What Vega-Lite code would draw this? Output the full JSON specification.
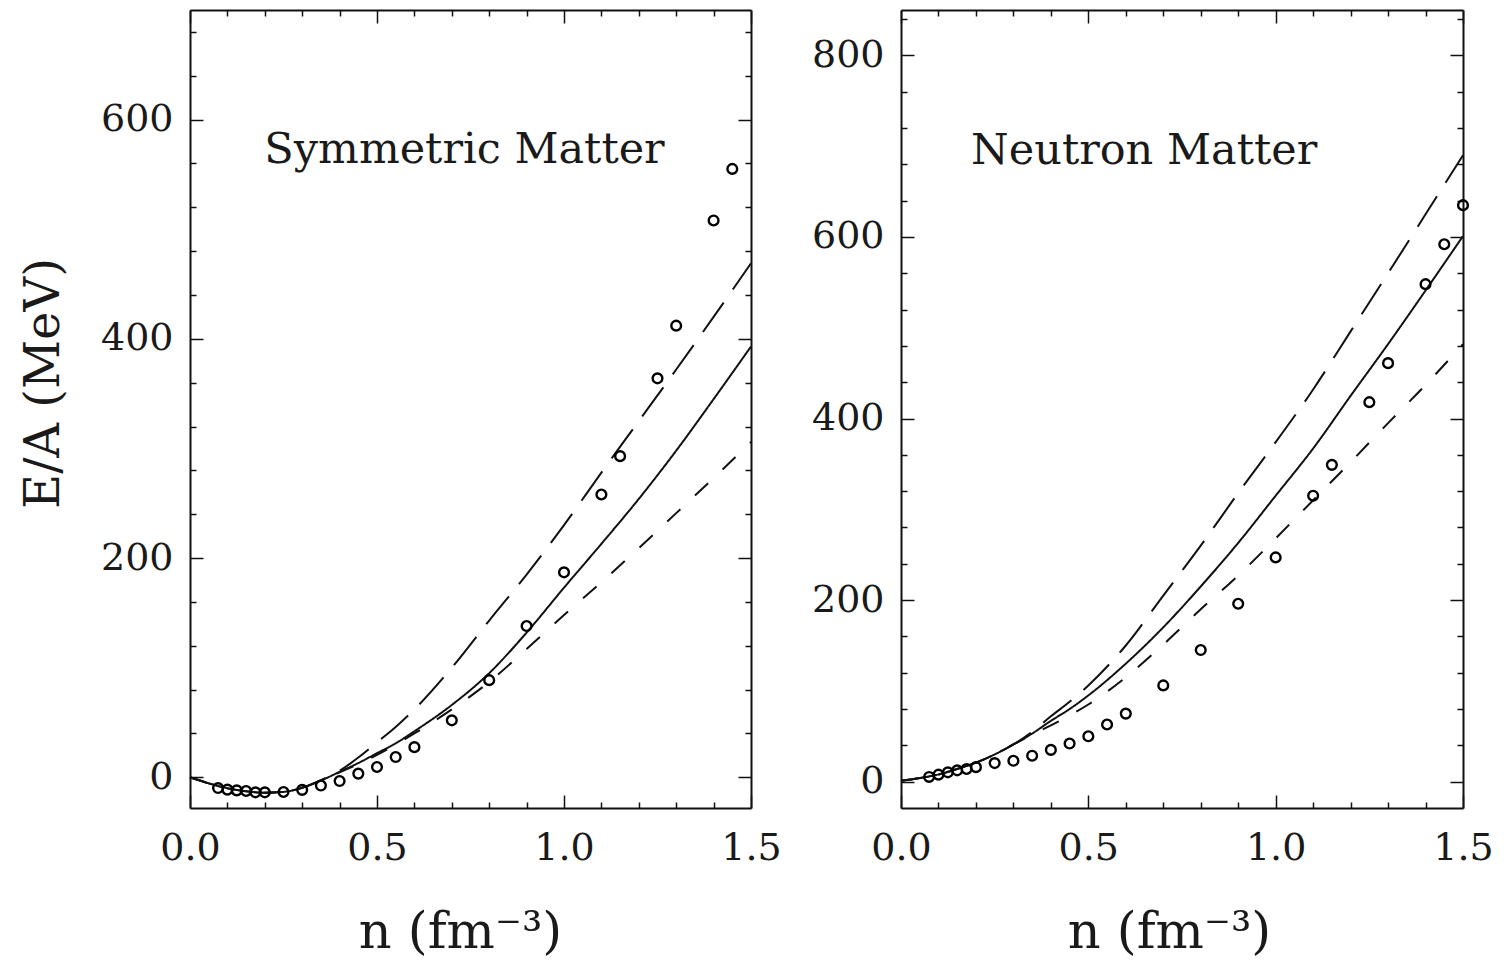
{
  "$schema": "https://vega.github.io/schema/vega-lite/v6.json",
  "background": "white",
  "padding": {"left": 20, "top": 0, "right": 5, "bottom": 5},
  "spacing": 150,
  "bounds": "flush",
  "config": {
    "view": {"stroke": null},
    "axis": {
      "grid": false,
      "domainColor": "#111111",
      "domainWidth": 2,
      "tickColor": "#111111",
      "tickWidth": 1.5,
      "labelFont": "DejaVu Serif",
      "labelFontSize": 38,
      "labelColor": "#1a1a1a",
      "titleFont": "DejaVu Serif",
      "titleFontSize": 48,
      "titleFontWeight": "normal",
      "titleColor": "#1a1a1a"
    }
  },
  "datasets": {
    "symPoints": [
      {"n": 0.075, "E": -9.8}, {"n": 0.1, "E": -11.2}, {"n": 0.125, "E": -11.9}, {"n": 0.15, "E": -12.5},
      {"n": 0.175, "E": -13.7}, {"n": 0.2, "E": -13.7}, {"n": 0.25, "E": -13.4}, {"n": 0.3, "E": -11.5},
      {"n": 0.35, "E": -7.5}, {"n": 0.4, "E": -3.4}, {"n": 0.45, "E": 3.4}, {"n": 0.5, "E": 9.4},
      {"n": 0.55, "E": 18.5}, {"n": 0.6, "E": 27.5}, {"n": 0.7, "E": 52}, {"n": 0.8, "E": 88.6},
      {"n": 0.9, "E": 138}, {"n": 1.0, "E": 187}, {"n": 1.1, "E": 258}, {"n": 1.15, "E": 293},
      {"n": 1.25, "E": 364}, {"n": 1.3, "E": 412}, {"n": 1.4, "E": 508}, {"n": 1.45, "E": 555}
    ],
    "neuPoints": [
      {"n": 0.075, "E": 5.2}, {"n": 0.1, "E": 7.7}, {"n": 0.125, "E": 10.3}, {"n": 0.15, "E": 12.5},
      {"n": 0.175, "E": 14}, {"n": 0.2, "E": 16}, {"n": 0.25, "E": 20.5}, {"n": 0.3, "E": 23},
      {"n": 0.35, "E": 28.6}, {"n": 0.4, "E": 35}, {"n": 0.45, "E": 42}, {"n": 0.5, "E": 50},
      {"n": 0.55, "E": 63}, {"n": 0.6, "E": 75}, {"n": 0.7, "E": 106}, {"n": 0.8, "E": 145},
      {"n": 0.9, "E": 196}, {"n": 1.0, "E": 247}, {"n": 1.1, "E": 315}, {"n": 1.15, "E": 349},
      {"n": 1.25, "E": 418}, {"n": 1.3, "E": 461}, {"n": 1.4, "E": 548}, {"n": 1.45, "E": 592}, {"n": 1.5, "E": 635}
    ],
    "symCurves": [
      {"model": "A", "n": 0, "E": 0}, {"model": "A", "n": 0.05, "E": -5.5}, {"model": "A", "n": 0.1, "E": -10}, {"model": "A", "n": 0.15, "E": -12.8},
      {"model": "A", "n": 0.2, "E": -14}, {"model": "A", "n": 0.25, "E": -13.3}, {"model": "A", "n": 0.3, "E": -9.5}, {"model": "A", "n": 0.35, "E": -3},
      {"model": "A", "n": 0.4, "E": 5}, {"model": "A", "n": 0.45, "E": 13}, {"model": "A", "n": 0.5, "E": 22}, {"model": "A", "n": 0.55, "E": 31},
      {"model": "A", "n": 0.6, "E": 42}, {"model": "A", "n": 0.7, "E": 66}, {"model": "A", "n": 0.8, "E": 95}, {"model": "A", "n": 0.9, "E": 132},
      {"model": "A", "n": 1.0, "E": 173}, {"model": "A", "n": 1.1, "E": 213}, {"model": "A", "n": 1.2, "E": 254}, {"model": "A", "n": 1.3, "E": 298},
      {"model": "A", "n": 1.4, "E": 345}, {"model": "A", "n": 1.5, "E": 393},
      {"model": "B", "n": 0, "E": 0}, {"model": "B", "n": 0.05, "E": -5.5}, {"model": "B", "n": 0.1, "E": -10}, {"model": "B", "n": 0.15, "E": -12.8},
      {"model": "B", "n": 0.2, "E": -14}, {"model": "B", "n": 0.25, "E": -13.3}, {"model": "B", "n": 0.3, "E": -9.5}, {"model": "B", "n": 0.35, "E": -2.5},
      {"model": "B", "n": 0.4, "E": 6}, {"model": "B", "n": 0.45, "E": 18}, {"model": "B", "n": 0.5, "E": 32}, {"model": "B", "n": 0.55, "E": 46},
      {"model": "B", "n": 0.6, "E": 62}, {"model": "B", "n": 0.7, "E": 100}, {"model": "B", "n": 0.8, "E": 143}, {"model": "B", "n": 0.9, "E": 185},
      {"model": "B", "n": 1.0, "E": 230}, {"model": "B", "n": 1.1, "E": 278}, {"model": "B", "n": 1.2, "E": 325}, {"model": "B", "n": 1.3, "E": 372},
      {"model": "B", "n": 1.4, "E": 420}, {"model": "B", "n": 1.5, "E": 469},
      {"model": "C", "n": 0, "E": 0}, {"model": "C", "n": 0.05, "E": -5.5}, {"model": "C", "n": 0.1, "E": -10}, {"model": "C", "n": 0.15, "E": -12.8},
      {"model": "C", "n": 0.2, "E": -14}, {"model": "C", "n": 0.25, "E": -13.3}, {"model": "C", "n": 0.3, "E": -9.5}, {"model": "C", "n": 0.35, "E": -3},
      {"model": "C", "n": 0.4, "E": 4.5}, {"model": "C", "n": 0.45, "E": 12}, {"model": "C", "n": 0.5, "E": 20.5}, {"model": "C", "n": 0.55, "E": 30},
      {"model": "C", "n": 0.6, "E": 40}, {"model": "C", "n": 0.7, "E": 62}, {"model": "C", "n": 0.8, "E": 87}, {"model": "C", "n": 0.9, "E": 117},
      {"model": "C", "n": 1.0, "E": 148}, {"model": "C", "n": 1.1, "E": 178}, {"model": "C", "n": 1.2, "E": 209}, {"model": "C", "n": 1.3, "E": 241},
      {"model": "C", "n": 1.4, "E": 273}, {"model": "C", "n": 1.5, "E": 306}
    ],
    "neuCurves": [
      {"model": "A", "n": 0, "E": 1}, {"model": "A", "n": 0.05, "E": 4}, {"model": "A", "n": 0.1, "E": 8}, {"model": "A", "n": 0.15, "E": 14},
      {"model": "A", "n": 0.2, "E": 21}, {"model": "A", "n": 0.25, "E": 30}, {"model": "A", "n": 0.3, "E": 41}, {"model": "A", "n": 0.35, "E": 53},
      {"model": "A", "n": 0.4, "E": 67}, {"model": "A", "n": 0.45, "E": 80}, {"model": "A", "n": 0.5, "E": 95}, {"model": "A", "n": 0.6, "E": 130},
      {"model": "A", "n": 0.7, "E": 170}, {"model": "A", "n": 0.8, "E": 215}, {"model": "A", "n": 0.9, "E": 263}, {"model": "A", "n": 1.0, "E": 315},
      {"model": "A", "n": 1.1, "E": 367}, {"model": "A", "n": 1.2, "E": 425}, {"model": "A", "n": 1.3, "E": 482}, {"model": "A", "n": 1.4, "E": 541},
      {"model": "A", "n": 1.5, "E": 601},
      {"model": "B", "n": 0, "E": 1}, {"model": "B", "n": 0.05, "E": 4}, {"model": "B", "n": 0.1, "E": 8}, {"model": "B", "n": 0.15, "E": 14},
      {"model": "B", "n": 0.2, "E": 21}, {"model": "B", "n": 0.25, "E": 30}, {"model": "B", "n": 0.3, "E": 41}, {"model": "B", "n": 0.35, "E": 55},
      {"model": "B", "n": 0.4, "E": 72}, {"model": "B", "n": 0.45, "E": 88}, {"model": "B", "n": 0.5, "E": 106}, {"model": "B", "n": 0.6, "E": 150},
      {"model": "B", "n": 0.7, "E": 205}, {"model": "B", "n": 0.8, "E": 260}, {"model": "B", "n": 0.9, "E": 318}, {"model": "B", "n": 1.0, "E": 374},
      {"model": "B", "n": 1.1, "E": 432}, {"model": "B", "n": 1.2, "E": 496}, {"model": "B", "n": 1.3, "E": 560}, {"model": "B", "n": 1.4, "E": 625},
      {"model": "B", "n": 1.5, "E": 690},
      {"model": "C", "n": 0, "E": 1}, {"model": "C", "n": 0.05, "E": 4}, {"model": "C", "n": 0.1, "E": 8}, {"model": "C", "n": 0.15, "E": 14},
      {"model": "C", "n": 0.2, "E": 21}, {"model": "C", "n": 0.25, "E": 30}, {"model": "C", "n": 0.3, "E": 41}, {"model": "C", "n": 0.35, "E": 52},
      {"model": "C", "n": 0.4, "E": 62}, {"model": "C", "n": 0.45, "E": 73}, {"model": "C", "n": 0.5, "E": 85}, {"model": "C", "n": 0.6, "E": 115},
      {"model": "C", "n": 0.7, "E": 151}, {"model": "C", "n": 0.8, "E": 190}, {"model": "C", "n": 0.9, "E": 227}, {"model": "C", "n": 1.0, "E": 268},
      {"model": "C", "n": 1.1, "E": 310}, {"model": "C", "n": 1.2, "E": 352}, {"model": "C", "n": 1.3, "E": 395}, {"model": "C", "n": 1.4, "E": 437},
      {"model": "C", "n": 1.5, "E": 482}
    ],
    "symLabel": [{"n": 0.734, "E": 572, "label": "Symmetric Matter"}],
    "neuLabel": [{"n": 0.649, "E": 695, "label": "Neutron Matter"}]
  },
  "hconcat": [
    {
      "width": 561,
      "height": 798,
      "resolve": {"axis": {"x": "independent", "y": "independent"}},
      "layer": [
        {
          "data": {"name": "symCurves"},
          "mark": {"type": "line", "interpolate": "monotone", "strokeWidth": 2, "color": "#111111"},
          "encoding": {
            "x": {"field": "n", "type": "quantitative", "scale": {"domain": [0, 1.5], "nice": false, "zero": false},
              "axis": {"orient": "bottom", "values": [0, 0.1, 0.2, 0.3, 0.4, 0.5, 0.6, 0.7, 0.8, 0.9, 1, 1.1, 1.2, 1.3, 1.4, 1.5],
                "tickSize": {"condition": {"test": "datum.value % 0.5 === 0", "value": -13}, "value": -6},
                "labelExpr": "datum.value % 0.5 === 0 ? format(datum.value, '.1f') : ''",
                "labelFlush": false, "labelOverlap": false, "labelPadding": 34,
                "title": "n (fm⁻³)", "titleFontSize": 51, "titleX": 270, "titleY": 99, "titleAnchor": "middle"}},
            "y": {"field": "E", "type": "quantitative", "scale": {"domain": [-28, 700], "nice": false, "zero": false},
              "axis": {"orient": "left", "values": [0, 40, 80, 120, 160, 200, 240, 280, 320, 360, 400, 440, 480, 520, 560, 600, 640, 680],
                "tickSize": {"condition": {"test": "datum.value % 200 === 0", "value": -13}, "value": -6},
                "labelExpr": "datum.value % 200 === 0 ? format(datum.value, 'd') : ''",
                "labelFlush": false, "labelOverlap": false, "labelPadding": 30,
                "title": "E/A (MeV)", "titleX": -122, "titleY": 373}},
            "strokeDash": {"field": "model", "type": "nominal",
              "scale": {"domain": ["A", "B", "C"], "range": [[1, 0], [36, 16], [18, 20]]}, "legend": null}
          }
        },
        {
          "data": {"name": "symPoints"},
          "mark": {"type": "point", "shape": "circle", "filled": false, "size": 95, "strokeWidth": 2.4, "color": "#000000", "opacity": 1},
          "encoding": {
            "x": {"field": "n", "type": "quantitative", "scale": {"domain": [0, 1.5], "nice": false, "zero": false}, "axis": null},
            "y": {"field": "E", "type": "quantitative", "scale": {"domain": [-28, 700], "nice": false, "zero": false}, "axis": null}
          }
        },
        {
          "data": {"name": "symLabel"},
          "mark": {"type": "text", "font": "DejaVu Serif", "fontSize": 43, "color": "#1a1a1a", "align": "center", "baseline": "middle"},
          "encoding": {
            "x": {"field": "n", "type": "quantitative", "axis": null},
            "y": {"field": "E", "type": "quantitative", "axis": null},
            "text": {"field": "label"}
          }
        },
        {
          "data": {"name": "symPoints"},
          "mark": {"type": "point", "opacity": 0},
          "encoding": {
            "x": {"field": "n", "type": "quantitative",
              "axis": {"orient": "top", "values": [0, 0.1, 0.2, 0.3, 0.4, 0.5, 0.6, 0.7, 0.8, 0.9, 1, 1.1, 1.2, 1.3, 1.4, 1.5],
                "tickSize": {"condition": {"test": "datum.value % 0.5 === 0", "value": -13}, "value": -6},
                "labels": false, "title": null}},
            "y": {"field": "E", "type": "quantitative",
              "axis": {"orient": "right", "values": [0, 40, 80, 120, 160, 200, 240, 280, 320, 360, 400, 440, 480, 520, 560, 600, 640, 680],
                "tickSize": {"condition": {"test": "datum.value % 200 === 0", "value": -13}, "value": -6},
                "labels": false, "title": null}}
          }
        }
      ]
    },
    {
      "width": 562,
      "height": 798,
      "resolve": {"axis": {"x": "independent", "y": "independent"}},
      "layer": [
        {
          "data": {"name": "neuCurves"},
          "mark": {"type": "line", "interpolate": "monotone", "strokeWidth": 2, "color": "#111111"},
          "encoding": {
            "x": {"field": "n", "type": "quantitative", "scale": {"domain": [0, 1.5], "nice": false, "zero": false},
              "axis": {"orient": "bottom", "values": [0, 0.1, 0.2, 0.3, 0.4, 0.5, 0.6, 0.7, 0.8, 0.9, 1, 1.1, 1.2, 1.3, 1.4, 1.5],
                "tickSize": {"condition": {"test": "datum.value % 0.5 === 0", "value": -13}, "value": -6},
                "labelExpr": "datum.value % 0.5 === 0 ? format(datum.value, '.1f') : ''",
                "labelFlush": false, "labelOverlap": false, "labelPadding": 34,
                "title": "n (fm⁻³)", "titleFontSize": 51, "titleX": 268, "titleY": 99, "titleAnchor": "middle"}},
            "y": {"field": "E", "type": "quantitative", "scale": {"domain": [-29, 850], "nice": false, "zero": false},
              "axis": {"orient": "left", "values": [0, 40, 80, 120, 160, 200, 240, 280, 320, 360, 400, 440, 480, 520, 560, 600, 640, 680, 720, 760, 800, 840],
                "tickSize": {"condition": {"test": "datum.value % 200 === 0", "value": -13}, "value": -6},
                "labelExpr": "datum.value % 200 === 0 ? format(datum.value, 'd') : ''",
                "labelFlush": false, "labelOverlap": false, "labelPadding": 30,
                "title": null}},
            "strokeDash": {"field": "model", "type": "nominal",
              "scale": {"domain": ["A", "B", "C"], "range": [[1, 0], [36, 16], [18, 20]]}, "legend": null}
          }
        },
        {
          "data": {"name": "neuPoints"},
          "mark": {"type": "point", "shape": "circle", "filled": false, "size": 95, "strokeWidth": 2.4, "color": "#000000", "opacity": 1},
          "encoding": {
            "x": {"field": "n", "type": "quantitative", "scale": {"domain": [0, 1.5], "nice": false, "zero": false}, "axis": null},
            "y": {"field": "E", "type": "quantitative", "scale": {"domain": [-29, 850], "nice": false, "zero": false}, "axis": null}
          }
        },
        {
          "data": {"name": "neuLabel"},
          "mark": {"type": "text", "font": "DejaVu Serif", "fontSize": 43, "color": "#1a1a1a", "align": "center", "baseline": "middle"},
          "encoding": {
            "x": {"field": "n", "type": "quantitative", "axis": null},
            "y": {"field": "E", "type": "quantitative", "axis": null},
            "text": {"field": "label"}
          }
        },
        {
          "data": {"name": "neuPoints"},
          "mark": {"type": "point", "opacity": 0},
          "encoding": {
            "x": {"field": "n", "type": "quantitative",
              "axis": {"orient": "top", "values": [0, 0.1, 0.2, 0.3, 0.4, 0.5, 0.6, 0.7, 0.8, 0.9, 1, 1.1, 1.2, 1.3, 1.4, 1.5],
                "tickSize": {"condition": {"test": "datum.value % 0.5 === 0", "value": -13}, "value": -6},
                "labels": false, "title": null}},
            "y": {"field": "E", "type": "quantitative",
              "axis": {"orient": "right", "values": [0, 40, 80, 120, 160, 200, 240, 280, 320, 360, 400, 440, 480, 520, 560, 600, 640, 680, 720, 760, 800, 840],
                "tickSize": {"condition": {"test": "datum.value % 200 === 0", "value": -13}, "value": -6},
                "labels": false, "title": null}}
          }
        }
      ]
    }
  ]
}
